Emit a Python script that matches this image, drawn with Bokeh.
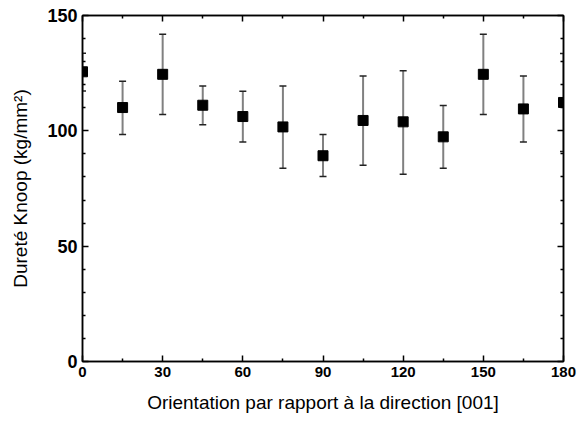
from bokeh.plotting import figure
from bokeh.models import Range1d, FixedTicker, LinearAxis, ColumnDataSource, CustomJSTickFormatter
from bokeh.embed import file_html
from bokeh.resources import INLINE

angles = [0, 15, 30, 45, 60, 75, 90, 105, 120, 135, 150, 165, 180]
durete = [125.6, 110.1, 124.5, 111.1, 106.2, 101.7, 89.2, 104.5, 103.9, 97.4, 124.5, 109.5, 112.3]
err_upper = [133.6, 121.5, 141.9, 119.4, 117.2, 119.4, 98.4, 123.8, 126.1, 111.0, 141.9, 123.8, 133.5]
err_lower = [117.3, 98.4, 107.1, 102.6, 95.2, 83.8, 80.2, 85.1, 81.2, 83.8, 107.1, 95.2, 91.0]

x_ticks = [0, 30, 60, 90, 120, 150, 180]
x_minor = [15, 45, 75, 105, 135, 165]
y_ticks = [0, 50, 100, 150]
y_minor = [10, 20, 30, 40, 60, 70, 80, 90, 110, 120, 130, 140]

src = ColumnDataSource(dict(x=angles, y=durete, up=err_upper, lo=err_lower))

p = figure(width=578, height=423, output_backend="svg", toolbar_location=None,
           x_range=Range1d(0, 180), y_range=Range1d(0, 150),
           min_border_left=82, min_border_right=15, min_border_top=15, min_border_bottom=62)
p.grid.visible = False
p.outline_line_color = "black"
p.outline_line_width = 1.5
p.background_fill_color = "white"
p.border_fill_color = "white"

p.segment(x0="x", y0="lo", x1="x", y1="up", source=src, line_color="#808080", line_width=2)
p.scatter(x="x", y="up", source=src, marker="dash", size=7, line_color="#222222", line_width=1.5)
p.scatter(x="x", y="lo", source=src, marker="dash", size=7, line_color="#222222", line_width=1.5)
p.scatter(x="x", y="y", source=src, marker="square", size=10, fill_color="black", line_color="black")

xt = FixedTicker(ticks=x_ticks, minor_ticks=x_minor)
yt = FixedTicker(ticks=y_ticks, minor_ticks=y_minor)

def style(ax, ticker, size="15px", labels=True):
    ax.ticker = ticker
    ax.axis_line_color = "black"
    ax.axis_line_width = 1.5
    ax.major_tick_in = 6
    ax.major_tick_out = 0
    ax.minor_tick_in = 3
    ax.minor_tick_out = 0
    ax.major_tick_line_color = "black"
    ax.major_tick_line_width = 1.5
    ax.minor_tick_line_color = "black"
    ax.minor_tick_line_width = 1.5
    if labels:
        ax.major_label_text_font = "Liberation Sans"
        ax.major_label_text_font_style = "bold"
        ax.major_label_text_font_size = size
        ax.major_label_text_color = "black"
        ax.axis_label_text_font = "Liberation Sans"
        ax.axis_label_text_font_style = "normal"
        ax.axis_label_text_font_size = "19px"
        ax.axis_label_text_color = "black"
    else:
        ax.formatter = CustomJSTickFormatter(code="return ''")
        ax.major_label_standoff = 0

style(p.xaxis[0], xt, "15px")
style(p.yaxis[0], yt, "18px")
p.xaxis[0].axis_label = "Orientation par rapport à la direction [001]"
p.yaxis[0].axis_label = "Dureté Knoop (kg/mm²)"
p.xaxis[0].major_label_standoff = 5
p.yaxis[0].major_label_standoff = 5
p.xaxis[0].axis_label_standoff = 12
p.yaxis[0].axis_label_standoff = 13

top = LinearAxis()
right = LinearAxis()
style(top, FixedTicker(ticks=x_ticks, minor_ticks=x_minor), labels=False)
style(right, FixedTicker(ticks=y_ticks, minor_ticks=y_minor), labels=False)
p.add_layout(top, "above")
p.add_layout(right, "right")

open("out.html", "w").write(file_html(p, INLINE))
